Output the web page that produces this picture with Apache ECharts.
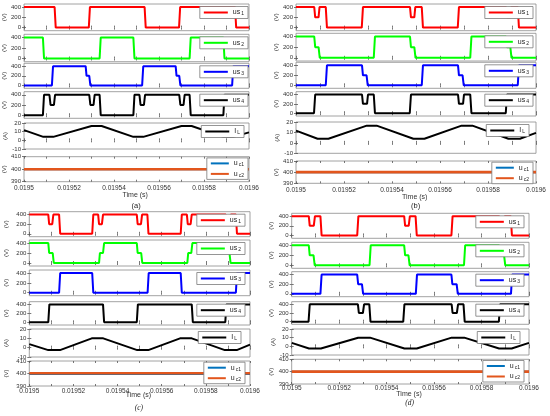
<!DOCTYPE html>
<html>
<head>
<meta charset="utf-8">
<script src="https://cdn.jsdelivr.net/npm/echarts@6/dist/echarts.min.js"></script>
<style>
html, body { margin: 0; padding: 0; background: #fff; }
#main { width: 550px; height: 416px; }
</style>
</head>
<body>
<div id="main"></div>
<script>
// time is kept in microseconds after t = 0.0195 s
var timeTicks = [0, 10, 20, 30, 40, 50, 60, 70, 80, 90, 100];
var timeLabels = [0, 20, 40, 60, 80, 100];
var voltTicks = [0, 200, 400];
var currTicks = [-10, 0, 10, 20];
var capTicks = [390, 400, 410];
var seriesKeys = ['us1', 'us2', 'us3', 'us4', 'IL', 'uc1', 'uc2'];

// ---- (a) ----
var a_us1 = [[0,400],[13.6,400],[14.1,0],[28.8,0],[29.3,400],[53.6,400],[54.1,0],[68.9,0],[69.4,400],[93.8,400],[94.3,0],[100,0]];
var a_us2 = [[0,400],[8.4,400],[8.9,0],[33.6,0],[34.1,400],[48.6,400],[49.1,0],[73.6,0],[74.1,400],[88.6,400],[89.1,0],[100,0]];
var a_us3 = [[0,0],[12.4,0],[12.9,400],[27.4,400],[27.8,200],[29.0,200],[29.5,0],[52.5,0],[53,400],[67.4,400],[67.8,200],[69.0,200],[69.5,0],[92.5,0],[93,400],[100,400]];
var a_us4 = [[0,0],[8.4,0],[8.9,400],[11.3,400],[11.8,200],[13.3,200],[13.8,400],[29.0,400],[29.5,200],[30.9,200],[31.4,400],[33.6,400],[34.1,0],[48.6,0],[49.1,400],[51.3,400],[51.8,200],[53.3,200],[53.8,400],[69.0,400],[69.5,200],[70.9,200],[71.4,400],[73.6,400],[74.1,0],[88.6,0],[89.1,400],[100,400]];
var a_il = [[0,11.8],[8.6,4],[13,4],[30,16.5],[34.5,16.5],[48.6,4],[53,4],[70,16.5],[74.5,16.5],[88.6,4],[93,4],[100,9.2]];
var a_uc1 = [[0,400],[100,400]];
var a_uc2 = [[0,400],[100,400]];

// ---- (b) ----
var b_us1 = [[0,400],[7.6,400],[8.0,200],[9.4,200],[9.8,400],[12.4,400],[12.9,0],[27.4,0],[27.9,400],[47.5,400],[47.9,200],[49.3,200],[49.7,400],[52.4,400],[52.9,0],[67.4,0],[67.9,400],[87.5,400],[87.9,200],[89.3,200],[89.7,400],[92.4,400],[92.9,0],[100,0]];
var b_us2 = [[0,400],[7.6,400],[8.0,200],[9.4,200],[9.9,0],[32.4,0],[32.9,400],[47.5,400],[47.9,200],[49.3,200],[49.8,0],[72.6,0],[73.1,400],[87.5,400],[87.9,200],[89.3,200],[89.8,0],[100,0]];
var b_us3 = [[0,0],[12.4,0],[12.9,400],[27.5,400],[27.9,200],[29.4,200],[29.9,0],[52.4,0],[52.9,400],[67.5,400],[67.9,200],[69.4,200],[69.9,0],[92.4,0],[92.9,400],[100,400]];
var b_us4 = [[0,0],[7.5,0],[8.0,400],[27.5,400],[27.9,200],[29.6,200],[30.0,400],[32.4,400],[32.9,0],[47.4,0],[47.9,400],[67.5,400],[67.9,200],[69.6,200],[70,400],[72.6,400],[73.1,0],[87.4,0],[87.9,400],[100,400]];
var b_il = [[0,11.7],[9,4],[13.5,4],[29.5,16.5],[33.6,16.5],[48.9,4],[53.5,4],[69,16.5],[73.5,16.5],[88.5,4],[93.3,4],[100,9.6]];
var b_uc1 = [[0,400],[100,400]];
var b_uc2 = [[0,400],[100,400]];

// ---- (c) ----
var c_us1 = [[0,400],[8.6,400],[9.0,200],[10.4,200],[10.9,400],[13.5,400],[14,0],[28.5,0],[29,400],[31.2,400],[31.6,200],[32.9,200],[33.4,400],[48.7,400],[49.1,200],[50.6,200],[51.1,400],[53.5,400],[54,0],[68.6,0],[69.1,400],[71.4,400],[71.8,200],[73.1,200],[73.6,400],[89,400],[89.4,200],[90.8,200],[91.3,400],[93.6,400],[94.1,0],[100,0]];
var c_us2 = [[0,400],[8.6,400],[9.0,200],[10.6,200],[11.1,0],[31.6,0],[32,200],[33.4,200],[33.9,400],[48.7,400],[49.1,200],[50.7,200],[51.2,0],[71.6,0],[72,200],[73.4,200],[73.9,400],[88.9,400],[89.3,200],[90.7,200],[91.2,0],[100,0]];
var c_us3 = [[0,0],[13.5,0],[14,400],[28.5,400],[29,0],[53.6,0],[54.1,400],[68.6,400],[69.1,0],[93.6,0],[94.1,400],[100,400]];
var c_us4 = [[0,0],[8.6,0],[9.1,400],[33.4,400],[33.9,0],[48.7,0],[49.2,400],[73.6,400],[74.1,0],[88.8,0],[89.3,400],[100,400]];
var c_il = [[0,3.8],[8.6,-2.6],[13.9,-2.6],[28.3,10],[33.5,10],[48.9,-2.6],[53.9,-2.6],[68.3,10],[73.6,10],[88.6,-2.6],[94,-2.6],[100,3.2]];
var c_uc1 = [[0,399.6],[100,399.6]];
var c_uc2 = [[0,400.2],[100,400.2]];

// ---- (d) ----
var d_us1 = [[0,400],[7.2,400],[7.6,200],[9.3,200],[9.8,400],[12.1,400],[12.6,0],[27.6,0],[28.1,400],[47.4,400],[47.8,200],[49.3,200],[49.8,400],[52.2,400],[52.7,0],[67.3,0],[67.8,400],[87.4,400],[87.8,200],[89.3,200],[89.8,400],[92.3,400],[92.8,0],[100,0]];
var d_us2 = [[0,400],[7.2,400],[7.6,200],[9.2,200],[9.7,0],[32.8,0],[33.3,400],[47.4,400],[47.8,200],[49.2,200],[49.7,0],[72.6,0],[73.1,400],[87.4,400],[87.8,200],[89.5,200],[90,0],[100,0]];
var d_us3 = [[0,0],[12.1,0],[12.6,400],[27.6,400],[28,200],[29.6,200],[30.1,0],[52.3,0],[52.8,400],[67.3,400],[67.7,200],[69.5,200],[70,0],[92.4,0],[92.9,400],[100,400]];
var d_us4 = [[0,0],[7.1,0],[7.6,400],[27.9,400],[28.3,200],[30.0,200],[30.5,400],[32.7,400],[33.2,0],[47.0,0],[47.5,400],[67.4,400],[67.8,200],[69.6,200],[70.1,400],[72.4,400],[72.9,0],[87.3,0],[87.8,400],[100,400]];
var d_il = [[0,4],[7.3,-2.5],[12.3,-2.5],[28,10],[33,10],[47.5,-2.5],[52.7,-2.5],[67.4,10],[72.7,10],[87.4,-2.5],[92.7,-2.5],[100,4]];
var d_uc1 = [[0,400],[100,400]];
var d_uc2 = [[0,400],[100,400]];

var colors = { us1: '#ff0000', us2: '#00ff00', us3: '#0000ff', us4: '#000000', IL: '#000000', uc1: '#0072bd', uc2: '#e2561d' };
var legendText = {
    us1: '{m|us}{s|1}', us2: '{m|us}{s|2}', us3: '{m|us}{s|3}', us4: '{m|us}{s|4}',
    IL: '{m|I}{s|L}', uc1: '{m|u}{s|c1}', uc2: '{m|u}{s|c2}'
};

// layout of the four panels (pixels)
var panels = [
    { id: 'a', left: 24, right: 249, nameGap: 12.5, labMargin: 3.3, legRight: 1, timeY: 195.5, tagY: 206, serif: false,
      rows: [[4,30.7],[34.3,61.7],[63.3,88.3],[91.7,118.3],[123,149],[156.7,181.7]],
      data: [a_us1, a_us2, a_us3, a_us4, a_il, a_uc1, a_uc2] },
    { id: 'b', left: 296, right: 536, nameGap: 15.5, labMargin: 3, legRight: 3, timeY: 197.7, tagY: 206, serif: false,
      rows: [[4,30.7],[33.3,61],[62.3,88.3],[91.7,116],[122,153.3],[161,183.3]],
      data: [b_us1, b_us2, b_us3, b_us4, b_il, b_uc1, b_uc2] },
    { id: 'c', left: 29.3, right: 250, nameGap: 19.5, labMargin: 1.5, legRight: 5, timeY: 396, tagY: 409, serif: true,
      rows: [[211.7,236.7],[240,266],[270,295.7],[301.7,325],[329,357],[361,386]],
      data: [c_us1, c_us2, c_us3, c_us4, c_il, c_uc1, c_uc2] },
    { id: 'd', left: 291.7, right: 529, nameGap: 11.5, labMargin: 1, legRight: 5, timeY: 395, tagY: 404, serif: true,
      rows: [[213.3,238.3],[242.3,268.3],[271.7,296.7],[301.7,324.3],[329,355],[359.3,384]],
      data: [d_us1, d_us2, d_us3, d_us4, d_il, d_uc1, d_uc2] }
];

var W = 550;
var font = 'Liberation Sans, Arial, sans-serif';
var tickStyle = { show: true, inside: true, length: 2, lineStyle: { color: '#555', width: 0.8 } };
var richStyle = {
    m: { fontSize: 7, fontFamily: font, color: '#222', lineHeight: 8 },
    s: { fontSize: 5, fontFamily: font, color: '#222', lineHeight: 8, padding: [3, 0, 0, 1] }
};

function timeFmt(v) {
    return (0.0195 + v * 1e-6).toFixed(5).replace(/0+$/, '');
}

var grid = [], xAxis = [], yAxis = [], series = [], legend = [], graphic = [];

panels.forEach(function (p) {
    p.rows.forEach(function (r, ri) {
        var gi = grid.length;
        grid.push({
            left: p.left, top: r[0], width: p.right - p.left, height: r[1] - r[0],
            show: true, borderColor: '#8a8a8a', borderWidth: 0.8, backgroundColor: '#fff'
        });
        var last = ri === 5;
        xAxis.push({
            type: 'value', gridIndex: gi, min: 0, max: 100,
            axisLine: { show: false },
            axisTick: Object.assign({ customValues: timeTicks }, tickStyle),
            splitLine: { show: false },
            axisLabel: {
                show: last, customValues: timeLabels, formatter: timeFmt,
                fontSize: 6.5, fontFamily: font, color: '#333', margin: p.labMargin
            }
        });
        xAxis.push({
            type: 'value', gridIndex: gi, min: 0, max: 100, position: 'top',
            axisLine: { show: false },
            axisTick: Object.assign({ customValues: timeTicks }, tickStyle),
            splitLine: { show: false }, axisLabel: { show: false }
        });
        var yr;
        if (ri < 4) yr = { min: -60, max: 460, ticks: voltTicks, name: '(V)' };
        else if (ri === 4) yr = { min: -10, max: 20, ticks: currTicks, name: '(A)' };
        else yr = { min: 390, max: 410, ticks: capTicks, name: '(V)' };
        yAxis.push({
            type: 'value', gridIndex: gi, min: yr.min, max: yr.max,
            name: yr.name, nameLocation: 'middle', nameGap: p.nameGap, nameRotate: 90,
            nameTextStyle: { fontSize: 6, fontFamily: font, color: '#333' },
            axisLine: { show: false },
            axisTick: Object.assign({ customValues: yr.ticks }, tickStyle),
            splitLine: { show: false },
            axisLabel: { customValues: yr.ticks, fontSize: 6, fontFamily: font, color: '#333', margin: 3 }
        });
        yAxis.push({
            type: 'value', gridIndex: gi, min: yr.min, max: yr.max, position: 'right',
            axisLine: { show: false },
            axisTick: Object.assign({ customValues: yr.ticks }, tickStyle),
            splitLine: { show: false }, axisLabel: { show: false }
        });

        var keys = ri < 5 ? [seriesKeys[ri]] : ['uc1', 'uc2'];
        var names = [];
        keys.forEach(function (k) {
            var idx = seriesKeys.indexOf(k);
            var nm = p.id + ':' + k;
            names.push(nm);
            series.push({
                name: nm, type: 'line', xAxisIndex: 2 * gi, yAxisIndex: 2 * gi,
                data: p.data[idx], showSymbol: false, symbol: 'none', animation: false,
                color: colors[k],
                lineStyle: { width: k === 'uc2' ? 2.6 : 2, color: colors[k] },
                z: k === 'uc2' ? 3 : 2
            });
        });
        var isCap = ri === 5, isIL = ri === 4;
        legend.push({
            data: names, selectedMode: false, orient: 'vertical',
            right: W - p.right + p.legRight + (isIL ? 4 : 0),
            top: r[0] + (isCap ? 1.2 : 2.5),
            backgroundColor: '#fff', borderColor: '#7a7a7a', borderWidth: 0.8,
            padding: isCap ? [1.5, 4, 1.5, 4] : [2, 4, 2, 4],
            itemWidth: isCap ? 18 : 24, itemHeight: 2, itemGap: 2.5, icon: 'rect',
            formatter: function (n) { return legendText[n.split(':')[1]]; },
            textStyle: { rich: richStyle }
        });
    });
    var cx = (p.left + p.right) / 2;
    graphic.push({
        type: 'text', left: cx - 14, top: p.timeY - 4,
        style: { text: 'Time (s)', fontSize: 7, fontFamily: font, fill: '#333' }
    });
    graphic.push({
        type: 'text', left: cx - 5, top: p.tagY - 4.5,
        style: { text: '(' + p.id + ')', fontSize: 7.5,
                 fontFamily: p.serif ? 'Liberation Serif, Times New Roman, serif' : font,
                 fontStyle: p.serif ? 'italic' : 'normal', fill: '#222' }
    });
});

var chart = echarts.init(document.getElementById('main'));
chart.setOption({
    animation: false,
    backgroundColor: '#fff',
    grid: grid, xAxis: xAxis, yAxis: yAxis,
    series: series, legend: legend, graphic: graphic
});
</script>
</body>
</html>
